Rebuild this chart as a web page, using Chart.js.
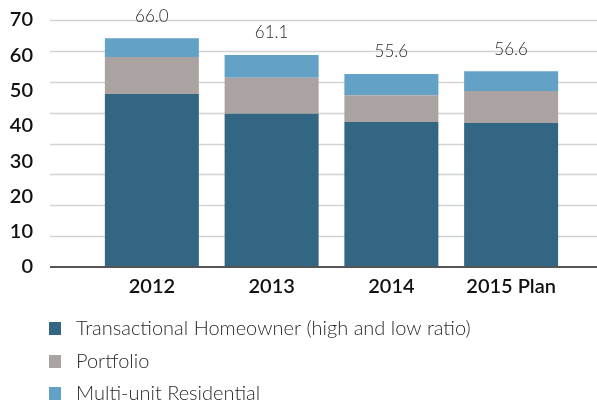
<!DOCTYPE html>
<html><head><meta charset="utf-8">
<script src="https://cdn.jsdelivr.net/npm/chart.js@4/dist/chart.umd.min.js"></script>
<style>html,body{margin:0;padding:0;background:#fff}#c{display:block}</style>
</head><body>
<canvas id="c" width="597" height="405"></canvas>
<script>
const categories = ["2012", "2013", "2014", "2015 Plan"];
const transactional = [49.0, 43.4, 41.1, 40.8];
const portfolio = [10.5, 10.2, 7.6, 9.1];
const multiUnit = [5.3, 6.5, 6.0, 5.6];
const totalLabels = ["66.0", "61.1", "55.6", "56.6"];
const seriesNames = ["Transactional Homeowner (high and low ratio)", "Portfolio", "Multi-unit Residential"];
const colors = ["#336683", "#aba3a2", "#63a1c7"];
const gridValues = [0, 10, 20, 30, 40, 50, 60, 70, 80];

const FONT = "Lato, 'Open Sans', sans-serif";

const decor = {
  id: 'decor',
  beforeDatasetsDraw(chart) {
    const ctx = chart.ctx, yg = chart.scales.yg;
    ctx.save();
    ctx.strokeStyle = '#d3d3d3';
    ctx.lineWidth = 1.5;
    gridValues.forEach(v => {
      if (v === 0) return;
      const y = Math.round(yg.getPixelForValue(v)) + 0.5;
      ctx.beginPath(); ctx.moveTo(50, y); ctx.lineTo(597, y); ctx.stroke();
    });
    ctx.restore();
  },
  afterDatasetsDraw(chart) {
    const ctx = chart.ctx, y = chart.scales.y;
    ctx.save();
    ctx.strokeStyle = '#555';
    ctx.lineWidth = 2;
    const y0 = y.getPixelForValue(0);
    ctx.beginPath(); ctx.moveTo(50, y0); ctx.lineTo(597, y0); ctx.stroke();
    // totals
    const meta = chart.getDatasetMeta(2);
    ctx.fillStyle = '#2a2a2a';
    ctx.font = "300 17px " + FONT;
    ctx.textAlign = 'center';
    ctx.textBaseline = 'middle';
    meta.data.forEach((bar, i) => {
      ctx.fillText(totalLabels[i], bar.x, bar.y - 22);
    });
    // legend
    ctx.font = "300 20px " + FONT;
    ctx.textAlign = 'left';
    const rows = [328, 361, 393];
    chart.data.datasets.forEach((ds, i) => {
      ctx.fillStyle = ds.backgroundColor;
      ctx.fillRect(49, rows[i] - 6, 12, 13);
      ctx.fillStyle = '#2a2a2a';
      ctx.fillText(ds.label, 76, rows[i] + 1);
    });
    ctx.restore();
  }
};

new Chart(document.getElementById('c'), {
  type: 'bar',
  data: {
    labels: categories,
    datasets: [
      { label: seriesNames[0], data: transactional, backgroundColor: colors[0] },
      { label: seriesNames[1], data: portfolio, backgroundColor: colors[1] },
      { label: seriesNames[2], data: multiUnit, backgroundColor: colors[2] }
    ]
  },
  options: {
    responsive: false,
    animation: false,
    devicePixelRatio: 1,
    layout: { padding: { left: 2, right: 26, top: 20, bottom: 98 } },
    datasets: { bar: { categoryPercentage: 1, barPercentage: 0.785 } },
    plugins: { legend: { display: false }, tooltip: { enabled: false } },
    scales: {
      x: {
        stacked: true,
        grid: { display: false },
        border: { display: false },
        ticks: { padding: 0, color: '#111', font: { family: FONT, size: 20, weight: 600 } },
        afterFit(s) { s.height = 40; }
      },
      y: {
        stacked: true,
        min: 0, max: 70,
        grid: { display: true, drawOnChartArea: false, drawTicks: true, tickLength: 55, color: 'rgba(0,0,0,0)' },
        border: { display: false },
        ticks: { stepSize: 10, padding: 4, color: '#111', font: { family: FONT, size: 20, weight: 600 } },
        afterFit(s) { s.width = 90; }
      },
      yg: {
        display: false,
        min: 0, max: 80
      }
    }
  },
  plugins: [decor]
});
</script>
</body></html>
